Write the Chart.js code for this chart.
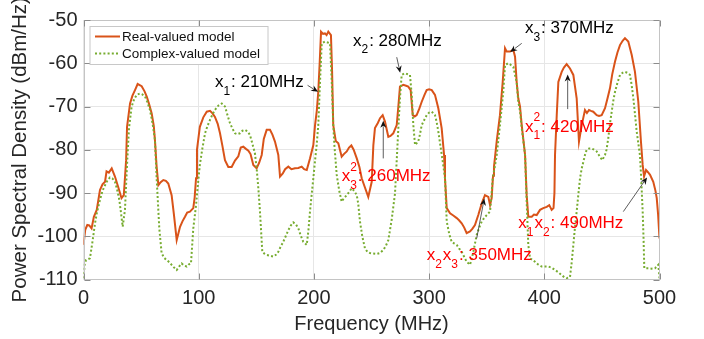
<!DOCTYPE html>
<html>
<head>
<meta charset="utf-8">
<script src="https://cdn.jsdelivr.net/npm/chart.js@4.4.1/dist/chart.umd.min.js"></script>
<style>
  html, body { margin: 0; padding: 0; background: #fff; }
  canvas { display: block; }
</style>
</head>
<body>
<canvas id="psd" width="704" height="339"></canvas>
<script>
// PSD comparison: real-valued vs complex-valued model.
const FONT = '"Liberation Sans", Arial, Helvetica, sans-serif';

const xTicks = [0, 100, 200, 300, 400, 500];
const yTicks = [-110, -100, -90, -80, -70, -60, -50];

const realFreq = [
  0, 1.5, 3.3, 5, 7, 9, 11.5, 14.3, 16.5, 18.7, 20, 22, 24.5, 27.3, 30, 33, 35, 37, 37.8, 40.4,
  42.5, 44.7, 47, 50.5, 53, 54.9, 57, 59.2, 61, 62, 63.5, 65, 67, 69.3, 71.5, 73.6, 76.5, 78.5, 80.9, 83.8,
  86, 88.1, 90, 92.4, 95.3, 96.5, 97.7, 98.5, 101, 104, 107, 109.8, 112, 114.1, 116.5, 118.5, 120.5, 122.8, 125.7, 128.6,
  131.5, 134.4, 136.5, 138.7, 141, 143.1, 145, 147.4, 150.3, 152.5, 154.7, 156.5, 159, 161.9, 164, 166.2, 169.1, 170.6, 173, 175,
  177.8, 180.5, 183.6, 186.5, 189.4, 191.5, 193.8, 196.6, 199.5, 201, 202.5, 203.8, 205, 206.2, 208, 209.6, 211, 212.5, 214.8, 215.8,
  216.8, 219, 221.2, 224.1, 226, 228.5, 230.5, 232.5, 234.5, 237.2, 239.5, 241.5, 244, 247.2, 250.2, 251.6, 253, 255.5, 257.4, 259.7,
  261.7, 264.6, 266.5, 268.9, 271.9, 273.3, 274.7, 277.6, 280, 281.9, 284, 285.8, 287.5, 289.2, 291.5, 293.6, 296, 297.9, 300, 302.3,
  305.1, 308, 310.9, 313, 313.8, 315.3, 318.2, 321, 324, 326, 328.3, 330.5, 332.6, 335.5, 337.5, 339.8, 342.7, 345.7, 348.5, 351.4,
  352.9, 354.3, 355.5, 356.3, 358.7, 361.5, 363.9, 365.9, 367.4, 370.2, 373.1, 374.6, 376, 377.4, 378.9, 380.4, 383.3, 384.7, 386.1, 389.1,
  391, 393.4, 396.3, 399.1, 402.1, 404.3, 406.4, 408, 408.8, 409.3, 410.8, 412.2, 415.1, 417, 419.4, 422.3, 425.2, 428.1, 430.1, 432.5,
  435.3, 437, 438.8, 440.5, 442.5, 445.5, 447.5, 449.8, 452.7, 455, 457, 459, 461.4, 463.5, 465.7, 468, 470, 472.9, 475.9, 478.7,
  481.6, 483.9, 485.4, 486.6, 488.3, 490, 491.8, 494.6, 496.5, 497.6, 498.8, 500
];
const realPsd = [
  -102, -98.5, -97.4, -97.5, -98.2, -95.5, -93.9, -89.3, -88, -87.4, -85, -85.3, -84.3, -86.2, -88.5, -91.2, -90.5, -82.4, -74.7, -69.3,
  -67.5, -66.2, -64.8, -65.3, -66.5, -67.7, -69.5, -71.6, -74.5, -77.7, -84, -88.2, -87.5, -87, -87.2, -87.8, -90.5, -95, -100.9, -97.8,
  -96.5, -95.5, -94.5, -94.3, -93.5, -91, -86.6, -80, -74.7, -72.5, -71.2, -71, -71.6, -72.4, -74, -76.2, -79, -82.4, -84, -84,
  -82.5, -81.5, -79.5, -79.3, -79.8, -80.2, -81, -83.5, -84.3, -83, -81.2, -77.5, -75.4, -75.4, -76.5, -78.1, -81.2, -86.2, -85.5, -84.5,
  -83.9, -84.5, -84.3, -84.2, -83.9, -84.5, -84.7, -82, -78.9, -74.3, -71, -66.6, -60, -52.7, -53.2, -53.1, -53.5, -52.7, -53.5, -62,
  -74.3, -78, -78.5, -81.6, -81, -80.4, -79.5, -79, -80, -82, -84, -86.6, -88.5, -90.9, -87.4, -79, -75, -73.8, -72.7, -72,
  -73.5, -77, -76.8, -76.2, -74.3, -70, -65.4, -65, -65.2, -65.4, -66.2, -72, -72.3, -72, -70.5, -68.9, -67.3, -66.2, -66, -66.2,
  -67.3, -70.4, -75, -81.2, -86.6, -93.5, -94.7, -95.2, -95.8, -96.3, -97, -98, -99.3, -98.9, -98.3, -97.4, -95.1, -92.4, -90.5, -90.9,
  -92.8, -91.2, -86, -84, -78, -72, -64.3, -56.5, -57.3, -57.3, -56.9, -58.5, -64.3, -68.1, -70, -74.3, -81.2, -90.5, -95.5, -95.5,
  -95, -95.1, -93.9, -93.5, -93.2, -92.8, -93.9, -93.5, -90, -81.2, -72, -64.3, -62, -61, -60.2, -61.2, -62.7, -68.1, -78.1, -74.3,
  -70.8, -71.5, -70.8, -71, -71.2, -72, -72.2, -72, -70.4, -68, -65.8, -62.5, -59.6, -57.5, -55.8, -54.8, -54.2, -55, -58.1, -62,
  -68.9, -78.1, -83.5, -86.2, -84.7, -85.2, -85.8, -87.4, -89.5, -91.2, -95, -100.5
];

const complexFreq = [
  0, 1, 2.2, 5.6, 8, 10, 11.5, 14.3, 16.5, 18.7, 21, 23, 25, 27.3, 29, 31.1, 32.5, 34, 36, 37,
  38, 39.5, 41.8, 44, 46.2, 49, 51, 53.4, 55.5, 57.7, 60, 62, 63.5, 65.8, 67.8, 70, 72.2, 74.5, 76.5, 78.5,
  80.9, 83, 85.2, 87.5, 89.6, 91.5, 93.3, 95.3, 97.7, 99.5, 101, 103, 105.5, 107.5, 109.8, 112, 114.1, 117, 120, 122.8,
  125, 127.2, 129.5, 131.5, 133.5, 135.8, 138, 140.2, 142.5, 144.5, 146.5, 148.8, 150.3, 151.8, 153.2, 155.2, 157, 159, 162, 164.8,
  167, 169.1, 171, 173.4, 175.5, 177.8, 180, 182.1, 184.5, 186.5, 188.5, 190.8, 193.8, 195.3, 196.6, 198, 199.5, 201, 202.4, 203.8,
  205.3, 206.8, 209.6, 212, 214, 215.5, 216.8, 217.8, 219.8, 222, 224.1, 226, 228.5, 230.5, 232.8, 235, 237.2, 238.5, 240, 242,
  244.3, 246.5, 248.7, 251, 254.5, 257, 260.2, 262.5, 264.6, 267.5, 270.4, 271.9, 273.3, 274.7, 276.2, 279.1, 281, 283.4, 284.9, 286.3,
  287.8, 290.6, 292, 293.6, 296, 297.9, 300, 302.3, 305.1, 306.5, 308, 309.5, 311, 312.5, 313.8, 315.3, 317.5, 319.6, 322, 324,
  326, 328.3, 330.5, 332.6, 335.5, 337, 338.4, 341.3, 343.5, 345.7, 348, 350, 352.9, 354, 355.2, 357, 358.7, 361.5, 364.4, 365.9,
  368.8, 371, 373.1, 374.6, 376, 377.4, 378.9, 380.4, 383.3, 384.7, 386.1, 387.6, 390, 391.9, 394.5, 397.7, 400.5, 403.5, 406.5, 409.3,
  412, 415.1, 417.5, 419.4, 422.3, 423.8, 425.2, 426.6, 428.1, 429.5, 431, 432.5, 433.9, 435.3, 436.8, 439, 441.1, 443.3, 445.5, 448,
  450.3, 452.7, 454, 455.5, 457, 458.5, 460, 461.4, 463.5, 465.7, 468, 470, 472, 474.4, 475.8, 477.3, 478.8, 480.2, 481.6, 483,
  484, 485.4, 486.2, 486.8, 488.5, 490.3, 493, 496.1, 499, 500
];
const complexPsd = [
  -109.7, -106.5, -105.5, -105.1, -100.9, -97, -94.7, -91.6, -89.5, -88.2, -87, -86.4, -86.6, -87.4, -89, -91.6, -94.5, -97.8, -93.9, -88,
  -82.4, -75, -70, -68.3, -67.3, -67, -67.2, -67.7, -69, -70.8, -74, -77.7, -86.6, -98.2, -103.9, -105, -105.5, -106, -106.6, -107.2,
  -107.8, -107, -106.3, -106.8, -107, -106.5, -106.3, -98.2, -92.8, -87.5, -83.5, -80, -76.2, -74.6, -73.1, -71.8, -70.8, -69.8, -69.3, -70,
  -72, -73.9, -75.2, -76.2, -76.4, -76.2, -75.6, -75.4, -75.8, -76.6, -78.5, -80.8, -84.3, -89, -94.3, -103.6, -104, -104.3, -104.5, -104.7,
  -104.3, -103.6, -102.5, -101.3, -100, -98.6, -97.5, -96.8, -97.3, -98.2, -99.8, -101.3, -102, -98.5, -94.3, -90.5, -86.6, -82.5, -78.9, -74.3,
  -64.3, -55.4, -55, -55.2, -55.4, -64.3, -74.3, -79, -85.8, -89.5, -92, -91.2, -90.5, -89.8, -88.9, -89.5, -90.5, -92.5, -96.6, -100,
  -102.8, -103.6, -103.9, -104, -104.1, -103.9, -103.2, -102.2, -100.9, -96.2, -90.1, -82.4, -75, -68.1, -62.7, -62.3, -62.5, -62.7, -67.3, -74.3,
  -78.9, -78.1, -76.5, -74.3, -73, -72, -71.4, -71.2, -72, -73.5, -75.8, -78.5, -81.2, -84, -86.6, -96.6, -99.5, -101.3, -101.7, -102,
  -102.8, -103.6, -104.8, -105.9, -106.6, -105.2, -103.6, -99.7, -98, -96.6, -95.7, -95.1, -94.3, -91, -86.6, -84, -81.2, -74.3, -66.6, -60.4,
  -60, -60.4, -60.8, -62.7, -64.3, -68.9, -71, -75, -81.2, -92, -102, -105.1, -105.5, -105.9, -106.5, -107, -107, -107, -107.3, -107.8,
  -108.3, -109, -109.5, -109.7, -109.4, -106, -102, -98, -94.3, -90.5, -86.6, -84.3, -82.8, -81.2, -80, -79.7, -79.7, -80, -80.4, -81.5,
  -82.4, -81.2, -80, -77.4, -74, -71.2, -68.5, -66.6, -64.5, -62.7, -62.2, -62, -62.2, -62.7, -65, -68.1, -72, -75.8, -78.5, -81.2,
  -86, -94.3, -101, -107.4, -107.4, -107.4, -107.5, -107.4, -106.6, -109.7
];

// Harmonic / intermod callouts: text anchor (left, baseline) and arrow in data units.
const callouts = [
  { parts: [{ t: "x" }, { sub: "1" }, { t: ": 210MHz" }], color: "#000000",
    at: [114.1, -65.6], from: [194.5, -65.1], to: [203.6, -66.6] },
  { parts: [{ t: "x" }, { sub: "2" }, { t: ": 280MHz" }], color: "#000000",
    at: [233.9, -55.9], from: [271.9, -58.6], to: [274.9, -62.2] },
  { parts: [{ t: "x" }, { sub: "3" }, { t: ": 370MHz" }], color: "#000000",
    at: [383.2, -53.1], from: [380.4, -55.4], to: [370.4, -57.4] },
  { parts: [{ t: "x" }, { sub: "1", sup: "2" }, { t: ": 420MHz" }], color: "#ff0000",
    at: [383.2, -75.8], from: [420.3, -70.6], to: [420.3, -62.6] },
  { parts: [{ t: "x" }, { sub: "3", sup: "2" }, { t: ": 260MHz" }], color: "#ff0000",
    at: [224.1, -87.2], from: [260.2, -82.0], to: [260.2, -73.3] },
  { parts: [{ t: "x" }, { sub: "2" }, { t: "x" }, { sub: "3" }, { t: ": 350MHz" }], color: "#ff0000",
    at: [297.9, -105.6], from: [341.3, -100.5], to: [347.9, -91.3] },
  { parts: [{ t: "x" }, { sub: "1" }, { t: "x" }, { sub: "2" }, { t: ": 490MHz" }], color: "#ff0000",
    at: [377.4, -98.2], from: [468.6, -94.3], to: [489.2, -86.4] }
];

const legendItems = [
  { label: "Real-valued model", color: "#D95319", dash: [] },
  { label: "Complex-valued model", color: "#77AC30", dash: [2, 2.2] }
];

function toPoints(xs, ys) {
  return xs.map((x, i) => ({ x: x, y: ys[i] }));
}

function drawRich(ctx, x, y, parts, size) {
  let cx = x;
  const small = Math.round(size * 0.7);
  for (const p of parts) {
    if (p.t !== undefined) {
      ctx.font = size + "px " + FONT;
      ctx.fillText(p.t, cx, y);
      cx += ctx.measureText(p.t).width;
    } else {
      ctx.font = small + "px " + FONT;
      let w = 0;
      if (p.sup) {
        ctx.fillText(p.sup, cx, y - size * 0.6);
        w = Math.max(w, ctx.measureText(p.sup).width);
      }
      if (p.sub) {
        ctx.fillText(p.sub, cx, y + size * 0.46);
        w = Math.max(w, ctx.measureText(p.sub).width);
      }
      cx += w + 1;
    }
  }
}

function drawArrow(ctx, x0, y0, x1, y1) {
  const ang = Math.atan2(y1 - y0, x1 - x0);
  const head = 7, half = 3;
  ctx.strokeStyle = "#333";
  ctx.fillStyle = "#111";
  ctx.lineWidth = 0.8;
  ctx.beginPath();
  ctx.moveTo(x0, y0);
  ctx.lineTo(x1 - Math.cos(ang) * head * 0.8, y1 - Math.sin(ang) * head * 0.8);
  ctx.stroke();
  ctx.beginPath();
  ctx.moveTo(x1, y1);
  ctx.lineTo(x1 - Math.cos(ang) * head - Math.sin(ang) * half, y1 - Math.sin(ang) * head + Math.cos(ang) * half);
  ctx.lineTo(x1 - Math.cos(ang) * head * 0.7, y1 - Math.sin(ang) * head * 0.7);
  ctx.lineTo(x1 - Math.cos(ang) * head + Math.sin(ang) * half, y1 - Math.sin(ang) * head - Math.cos(ang) * half);
  ctx.closePath();
  ctx.fill();
}

const framePlugin = {
  id: "frame",
  afterDatasetsDraw(chart) {
    const { ctx, chartArea: a, scales: { x, y } } = chart;
    const L = Math.round(a.left) + 0.5, R = Math.round(a.right) - 0.5;
    const T = Math.round(a.top) + 0.5, B = Math.round(a.bottom) - 0.5;
    ctx.save();
    ctx.lineWidth = 1;
    ctx.strokeStyle = "#c4c4c4";
    ctx.strokeRect(L, T, R - L, B - T);
    // MATLAB-style inward ticks
    ctx.strokeStyle = "#8c8c8c";
    ctx.beginPath();
    for (const v of xTicks) {
      const px = Math.round(x.getPixelForValue(v)) + 0.5;
      ctx.moveTo(px, B); ctx.lineTo(px, B - 6);
      ctx.moveTo(px, T); ctx.lineTo(px, T + 6);
    }
    for (const v of yTicks) {
      const py = Math.round(y.getPixelForValue(v)) + 0.5;
      ctx.moveTo(L, py); ctx.lineTo(L + 6, py);
      ctx.moveTo(R, py); ctx.lineTo(R - 6, py);
    }
    ctx.stroke();
    ctx.restore();
  },
  afterDraw(chart) {
    const { ctx, chartArea: a, scales: { x, y } } = chart;
    ctx.save();
    // legend box, top-left inside the axes
    const bx = a.left + 6.5, by = a.top + 6.5, bw = 178, bh = 38;
    ctx.fillStyle = "#fff";
    ctx.fillRect(bx, by, bw, bh);
    ctx.strokeStyle = "#c8c8c8";
    ctx.lineWidth = 1;
    ctx.strokeRect(bx, by, bw, bh);
    ctx.font = "13.5px " + FONT;
    ctx.textBaseline = "middle";
    legendItems.forEach((it, i) => {
      const ly = by + 10 + i * 17;
      ctx.strokeStyle = it.color;
      ctx.lineWidth = 2;
      ctx.setLineDash(it.dash);
      ctx.beginPath();
      ctx.moveTo(bx + 5, ly); ctx.lineTo(bx + 30, ly);
      ctx.stroke();
      ctx.setLineDash([]);
      ctx.fillStyle = "#111";
      ctx.fillText(it.label, bx + 32, ly + 0.5);
    });
    // callouts
    ctx.textBaseline = "alphabetic";
    for (const c of callouts) {
      drawArrow(ctx, x.getPixelForValue(c.from[0]), y.getPixelForValue(c.from[1]),
        x.getPixelForValue(c.to[0]), y.getPixelForValue(c.to[1]));
      ctx.fillStyle = c.color;
      drawRich(ctx, x.getPixelForValue(c.at[0]), y.getPixelForValue(c.at[1]), c.parts, 17);
    }
    ctx.restore();
  }
};

Chart.defaults.font.family = FONT;
Chart.defaults.color = "#262626";

new Chart(document.getElementById("psd"), {
  type: "line",
  data: {
    datasets: [
      { label: legendItems[0].label, data: toPoints(realFreq, realPsd),
        borderColor: legendItems[0].color, borderWidth: 2, pointRadius: 0, tension: 0, order: 2 },
      { label: legendItems[1].label, data: toPoints(complexFreq, complexPsd),
        borderColor: legendItems[1].color, borderWidth: 2, borderDash: legendItems[1].dash,
        pointRadius: 0, tension: 0, order: 1 }
    ]
  },
  options: {
    responsive: false,
    animation: false,
    events: [],
    layout: { padding: { left: 0, right: 44.5, top: 20, bottom: 0 } },
    scales: {
      x: {
        type: "linear", min: 0, max: 500,
        afterBuildTicks: s => { s.ticks = xTicks.map(v => ({ value: v })); },
        afterFit: s => { s.height = 59.5; },
        ticks: { padding: 7, font: { size: 20 }, color: "#262626" },
        grid: { color: "#e6e6e6", drawTicks: false },
        border: { display: false },
        title: { display: true, text: "Frequency (MHz)", font: { size: 20 }, color: "#262626",
          padding: { top: 0, bottom: 3 } }
      },
      y: {
        min: -110, max: -50,
        afterBuildTicks: s => { s.ticks = yTicks.map(v => ({ value: v })); },
        afterFit: s => { s.width = 83.5; },
        ticks: { padding: 6, font: { size: 20 }, color: "#262626" },
        grid: { color: "#e6e6e6", drawTicks: false },
        border: { display: false },
        title: { display: true, text: "Power Spectral Density (dBm/Hz)", font: { size: 20.5 }, color: "#262626",
          padding: { top: 8, bottom: 0 } }
      }
    },
    plugins: { legend: { display: false }, tooltip: { enabled: false } }
  },
  plugins: [framePlugin]
});
</script>
</body>
</html>
